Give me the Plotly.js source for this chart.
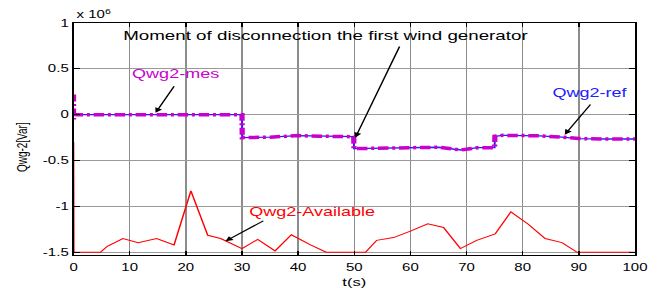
<!DOCTYPE html>
<html>
<head>
<meta charset="utf-8">
<script src="https://cdn.plot.ly/plotly-3.0.1.min.js"></script>
<style>
html,body{margin:0;padding:0;background:#fff;overflow:hidden;width:659px;height:288px;}
#chart{width:439px;height:288px;transform:scaleX(1.5011);transform-origin:0 0;}
</style>
</head>
<body>
<div id="chart"></div>
<script>
// Time axis (s)
const xTicks = [0, 10, 20, 30, 40, 50, 60, 70, 80, 90, 100];
const yTicks = [-1.5, -1, -0.5, 0, 0.5, 1];
const yTickText = ['-1.5', '-1', '-0.5', '0', '0.5', '1'];

// Qwg2-Available (x 10^6 Var)
const tAvail = [0, 0.05, 4.8, 6, 8.8, 11.5, 14.8, 17.9, 20.9, 23.9, 26.2, 30, 32.8, 35.9, 38.8, 42.2, 45, 52, 54, 57, 60, 63.1, 65.9, 68.9, 71.8, 75.1, 77.9, 81, 84, 87, 89.7, 100];
const qAvail = [-0.3, -1.5, -1.5, -1.435, -1.35, -1.395, -1.35, -1.42, -0.83, -1.315, -1.35, -1.46, -1.36, -1.485, -1.31, -1.42, -1.5, -1.5, -1.37, -1.34, -1.27, -1.19, -1.23, -1.46, -1.37, -1.30, -1.06, -1.195, -1.35, -1.395, -1.5, -1.5];

// Qwg2-ref
const tRef = [0, 30, 30.05, 35, 40, 44, 49.9, 49.95, 55, 60, 65, 69, 72, 75, 75.05, 76.5, 80, 83, 87, 90, 95, 100];
const qRef = [0, 0, -0.25, -0.245, -0.228, -0.235, -0.24, -0.37, -0.365, -0.355, -0.355, -0.385, -0.36, -0.36, -0.235, -0.225, -0.225, -0.23, -0.245, -0.26, -0.265, -0.265];

// Qwg2-mes
const tMes = [0, 0, 0.2, 30, 30.05, 35, 40, 44, 49.9, 49.95, 55, 60, 65, 69, 72, 75, 75.05, 76.5, 80, 83, 87, 90, 95, 100];
const qMes = [0.22, -0.05, 0, 0, -0.25, -0.245, -0.228, -0.235, -0.24, -0.37, -0.365, -0.355, -0.355, -0.385, -0.36, -0.36, -0.235, -0.225, -0.225, -0.23, -0.245, -0.26, -0.265, -0.265];

const FONT = 'Liberation Sans, Arial, sans-serif';

const traces = [
  {x: tAvail, y: qAvail, type: 'scatter', mode: 'lines', line: {color: '#ff0000', width: 1}, hoverinfo: 'skip'},
  {x: tRef, y: qRef, type: 'scatter', mode: 'lines', line: {color: '#2020ff', width: 1.3}, hoverinfo: 'skip'},
  {x: tMes, y: qMes, type: 'scatter', mode: 'lines', line: {color: '#cc00cc', width: 3.5, dash: '7px,2.5px,2px,2.5px'}, hoverinfo: 'skip'}
];

function arrow(x, y, ax, ay) {
  return {x: x, y: y, ax: ax, ay: ay, xref: 'x', yref: 'y', axref: 'x', ayref: 'y',
    text: '', showarrow: true, arrowhead: 2, arrowsize: 1, arrowwidth: 1, arrowcolor: '#000', standoff: 0};
}

const annotations = [
  {x: 44.8, y: 0.86, xref: 'x', yref: 'y', text: 'Moment of disconnection the first wind generator', showarrow: false,
    font: {family: FONT, size: 12.5, color: '#000'}},
  {x: 18.1, y: 0.447, xref: 'x', yref: 'y', text: 'Qwg2-mes', showarrow: false,
    font: {family: FONT, size: 12, color: '#cc00cc'}},
  {x: 92, y: 0.24, xref: 'x', yref: 'y', text: 'Qwg2-ref', showarrow: false,
    font: {family: FONT, size: 12, color: '#2020ff'}},
  {x: 42.5, y: -1.064, xref: 'x', yref: 'y', text: 'Qwg2-Available', showarrow: false,
    font: {family: FONT, size: 12, color: '#ff0000'}},
  arrow(50.2, -0.25, 58.2, 0.76),
  arrow(14.6, 0.02, 18.1, 0.327),
  arrow(87.5, -0.218, 92.3, 0.127),
  arrow(27.05, -1.38, 34.2, -1.144),
  {x: 0, y: 1, xref: 'paper', yref: 'paper', xanchor: 'left', yanchor: 'bottom', yshift: 1,
    text: 'x 10<sup>6</sup>', showarrow: false, font: {family: FONT, size: 10, color: '#000'}},
  {x: 0, y: 0.465, xref: 'paper', yref: 'paper', xanchor: 'center', yanchor: 'middle', xshift: -35,
    text: 'Qwg-2[Var]', textangle: -90, showarrow: false, font: {family: FONT, size: 10, color: '#000'}}
];

const layout = {
  width: 439, height: 288,
  margin: {l: 49, r: 16, t: 23, b: 33, pad: 0},
  paper_bgcolor: '#fff', plot_bgcolor: '#fff',
  showlegend: false,
  font: {family: FONT, size: 10, color: '#000'},
  xaxis: {
    range: [0, 100], tickvals: xTicks, ticktext: xTicks.map(String),
    showgrid: true, gridcolor: '#8c8c8c', gridwidth: 1, zeroline: false,
    showline: true, linecolor: '#000', linewidth: 1.2, mirror: 'ticks',
    ticks: 'inside', ticklen: 4, tickcolor: '#000', tickwidth: 1,
    ticklabelstandoff: 3,
    tickfont: {family: FONT, size: 10, color: '#000'},
    title: {text: 't(s)', font: {family: FONT, size: 11, color: '#000'}, standoff: 7}
  },
  yaxis: {
    range: [-1.53, 1], tickvals: yTicks, ticktext: yTickText,
    showgrid: true, gridcolor: '#9a9a9a', gridwidth: 1, zeroline: false,
    showline: true, linecolor: '#000', linewidth: 1.2, mirror: 'ticks',
    ticks: 'inside', ticklen: 4, tickcolor: '#000', tickwidth: 1,
    tickfont: {family: FONT, size: 10, color: '#000'}
  },
  annotations: annotations
};

Plotly.newPlot('chart', traces, layout, {staticPlot: true, displayModeBar: false});
</script>
</body>
</html>
